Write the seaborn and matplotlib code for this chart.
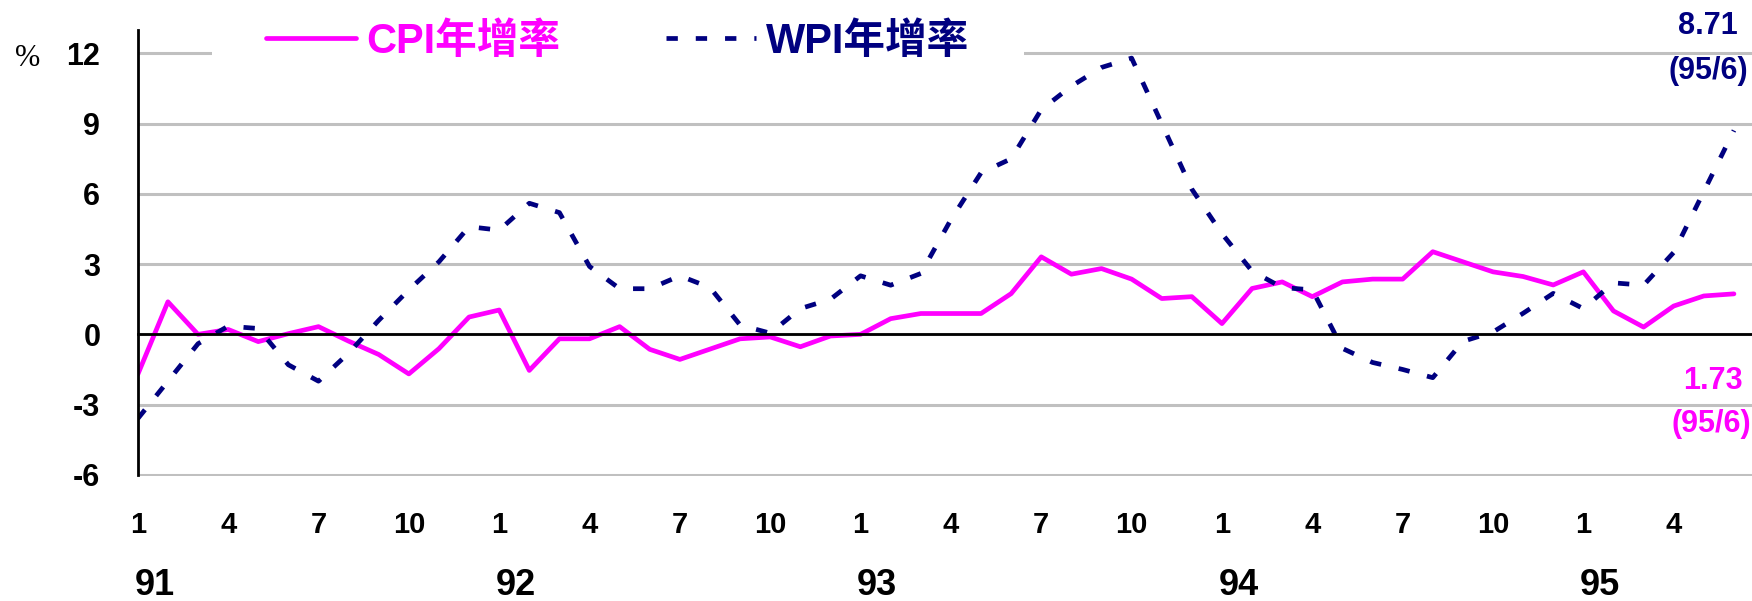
import numpy as np
import pandas as pd
import seaborn as sns
import matplotlib.pyplot as plt

# monthly year-on-year growth, 91/1 .. 95/6
cpi = [-1.71, 1.39, 0.00, 0.21, -0.31, 0.03, 0.33, -0.29, -0.86, -1.69, -0.61, 0.74,
       1.04, -1.54, -0.19, -0.19, 0.33, -0.64, -1.07, -0.63, -0.19, -0.11, -0.53, -0.07,
       0.00, 0.67, 0.89, 0.89, 0.89, 1.74, 3.31, 2.57, 2.81, 2.36, 1.53, 1.61,
       0.46, 1.96, 2.24, 1.61, 2.24, 2.36, 2.36, 3.53, 3.10, 2.67, 2.47, 2.11,
       2.67, 1.00, 0.31, 1.21, 1.64, 1.73]
wpi = [-3.60, -2.00, -0.40, 0.35, 0.25, -1.30, -2.00, -0.80, 0.60, 1.90, 3.10, 4.60,
       4.45, 5.60, 5.20, 2.90, 1.95, 1.95, 2.50, 2.00, 0.40, 0.05, 1.10, 1.50,
       2.50, 2.10, 2.60, 4.90, 6.90, 7.50, 9.60, 10.60, 11.40, 11.80, 9.00, 6.20,
       4.30, 2.70, 2.00, 1.90, -0.60, -1.20, -1.50, -1.85, -0.30, 0.10, 0.90, 1.75,
       1.10, 2.20, 2.10, 3.50, 6.10, 8.71]
years = ['91', '92', '93', '94', '95']
month_labels = ['1', '4', '7', '10']
yticks = [-6, -3, 0, 3, 6, 9, 12]

n = len(cpi)
df = pd.DataFrame({'t': np.arange(n), 'CPI年增率': cpi, 'WPI年增率': wpi})

sns.set_style('white')
plt.rcParams['font.family'] = ['Liberation Sans Narrow', 'Liberation Sans', 'DejaVu Sans']
plt.rcParams['text.color'] = 'black'
plt.rcParams['xtick.color'] = 'black'
plt.rcParams['ytick.color'] = 'black'

W, H = 1752, 601
fig = plt.figure(figsize=(W / 100, H / 100), dpi=100)
ax = fig.add_axes([137.8 / W, 1 - 476 / H, 1 - 137.8 / W, 446 / H])

magenta = '#ff00ff'
navy = '#000080'
sns.lineplot(data=df, x='t', y='CPI年增率', color=magenta, lw=3.4, ax=ax, label='CPI年增率')
sns.lineplot(data=df, x='t', y='WPI年增率', color=navy, lw=3.4, ax=ax, label='WPI年增率',
             linestyle=(0, (2.4, 3.8)))

ax.set_xlim(0, 53.6)
ax.set_ylim(-6.05, 13)
ax.set_xlabel('')
ax.set_ylabel('')

ax.set_yticks(yticks)
ax.set_yticklabels([str(v) for v in yticks], fontsize=22, fontweight='bold')
ax.tick_params(axis='y', length=0, pad=27)
ax.yaxis.grid(True, color='#c0c0c0', lw=2.2)
ax.xaxis.grid(False)
ax.set_axisbelow(True)

for s in ['top', 'right']:
    ax.spines[s].set_visible(False)
ax.spines['left'].set_linewidth(2)
ax.spines['left'].set_color('black')
ax.spines['left'].set_bounds(-6, 13)
ax.spines['bottom'].set_position(('data', 0))
ax.spines['bottom'].set_linewidth(2)
ax.spines['bottom'].set_color('black')
ax.set_xticks(range(0, n, 4))
ax.tick_params(axis='x', direction='in', length=12, width=1.8, color='black', labelbottom=False)

# month labels under the plot
sec = ax.secondary_xaxis(0)
sec.set_xticks(range(0, n, 3))
sec.set_xticklabels([month_labels[i % 4] for i in range(len(range(0, n, 3)))],
                    fontsize=21, fontweight='bold')
sec.tick_params(length=0, pad=25)
sec.spines['bottom'].set_visible(False)

for i, y in enumerate(years):
    ax.text(i * 12 + 0.55, -0.245, y, transform=ax.get_xaxis_transform(),
            ha='center', va='center', fontsize=26, fontweight='bold')

leg = ax.legend(loc='center left', bbox_to_anchor=(212 / W, 1 - 42 / H),
                bbox_transform=fig.transFigure, ncol=2, frameon=True,
                facecolor='white', edgecolor='white', framealpha=1,
                borderpad=1.3, borderaxespad=0, handlelength=2.15,
                handletextpad=0.25, columnspacing=2.55,
                prop={'family': ['Liberation Sans', 'Noto Sans CJK TC'],
                      'weight': 'bold', 'size': 30})
leg.get_frame().set_linewidth(0)
for txt, c in zip(leg.get_texts(), [magenta, navy]):
    txt.set_color(c)

fig.text(28 / W, 1 - 58 / H, '%', family='Liberation Serif', fontsize=22,
         ha='center', va='center')

fig.text(1708 / W, 1 - 26 / H, '8.71', color=navy, fontsize=22, fontweight='bold',
         ha='center', va='center')
fig.text(1708 / W, 1 - 71 / H, '(95/6)', color=navy, fontsize=22, fontweight='bold',
         ha='center', va='center')
fig.text(1713 / W, 1 - 381 / H, '1.73', color=magenta, fontsize=22, fontweight='bold',
         ha='center', va='center')
fig.text(1711 / W, 1 - 424 / H, '(95/6)', color=magenta, fontsize=22, fontweight='bold',
         ha='center', va='center')

fig.savefig('out.png', dpi=100)
